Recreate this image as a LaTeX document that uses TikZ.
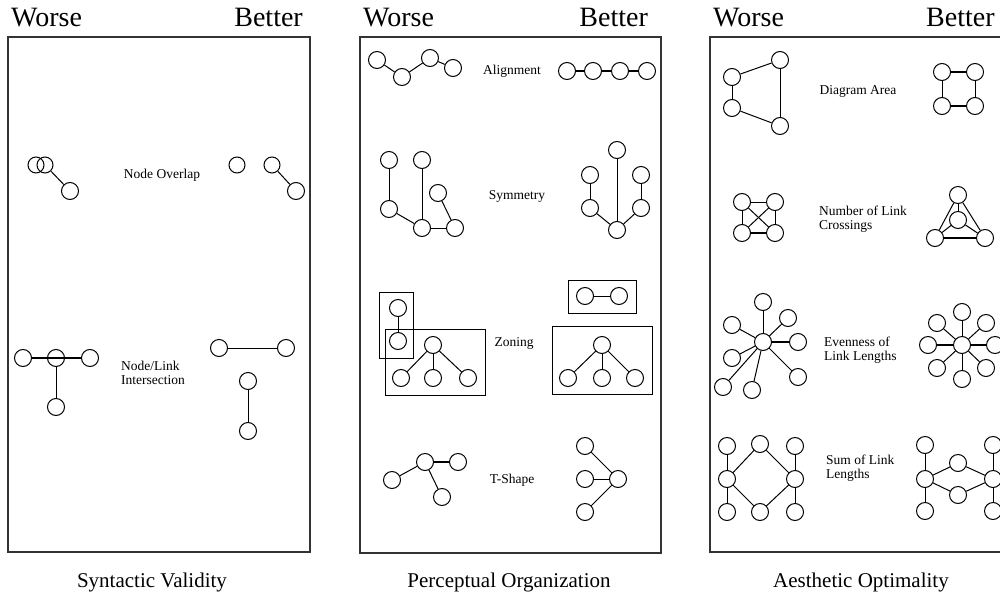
\documentclass[tikz,border=0pt]{standalone}
\usepackage{fontspec}
\setmainfont{Liberation Serif}
\begin{document}
\begin{tikzpicture}[x=1pt,y=-1pt,
  nd/.style={circle,draw,minimum size=17pt,inner sep=0pt,line width=1pt},
  sn/.style={circle,draw,minimum size=16pt,inner sep=0pt,line width=1pt},
  lk/.style={line width=1pt},
  tk/.style={line width=2pt},
  lbl/.style={font=\fontsize{13.5}{14.5}\selectfont,align=left,inner sep=0pt},
  hdr/.style={font=\fontsize{28}{30}\selectfont,inner sep=0pt},
  ttl/.style={font=\fontsize{21}{24}\selectfont,inner sep=0pt},
  panel/.style={draw=black!80,line width=1.2pt},
  zone/.style={draw,line width=1pt}]
\useasboundingbox (0,0) rectangle (1000,594);
% panels
\draw[panel] (8,37) rectangle (310,552);
\draw[panel] (360,37) rectangle (661,553);
\draw[panel] (710,37) rectangle (1012,552);
% headers
\node[hdr,anchor=base west] (h1w) at (11,27) {Worse};
\node[hdr,anchor=base east] (h1b) at (303,27) {Better};
\node[hdr,anchor=base west] (h2w) at (363,27) {Worse};
\node[hdr,anchor=base east] (h2b) at (648,27) {Better};
\node[hdr,anchor=base west] (h3w) at (713,27) {Worse};
\node[hdr,anchor=base west] (h3b) at (926,27) {Better};
% titles
\node[ttl,anchor=base] (t1) at (152,587) {Syntactic Validity};
\node[ttl,anchor=base] (t2) at (509,587) {Perceptual Organization};
\node[ttl,anchor=base] (t3) at (861,587) {Aesthetic Optimality};

% ===== Panel 1 =====
% Node overlap
\node[sn] (ow1) at (36,165) {};
\node[sn] (ow2) at (45,165) {};
\node[nd] (ow3) at (70,191) {};
\draw[lk] (ow2) -- (ow3);
\node[lbl] (lov) at (162,175) {Node Overlap};
\node[sn] (ob1) at (237,165) {};
\node[sn] (ob2) at (272,165) {};
\node[nd] (ob3) at (296,191) {};
\draw[lk] (ob2) -- (ob3);
% Node/link intersection
\node[nd] (iw1) at (23,358) {};
\node[nd] (iw2) at (56,358) {};
\node[nd] (iw3) at (90,358) {};
\node[nd] (iw4) at (56,407) {};
\draw[tk] (iw1) -- (iw3);
\draw[lk] (iw2) -- (iw4);
\node[lbl,anchor=west] (lni) at (121,373) {Node/Link\\Intersection};
\node[nd] (ib1) at (219,348) {};
\node[nd] (ib2) at (286,348) {};
\draw[lk] (ib1) -- (ib2);
\node[nd] (ib3) at (248,381) {};
\node[nd] (ib4) at (248,431) {};
\draw[lk] (ib3) -- (ib4);

% ===== Panel 2 =====
% Alignment
\node[nd] (aw1) at (377,60) {};
\node[nd] (aw2) at (402,77) {};
\node[nd] (aw3) at (430,58) {};
\node[nd] (aw4) at (453,68) {};
\draw[lk] (aw1) -- (aw2) -- (aw3) -- (aw4);
\node[lbl] (lal) at (512,71) {Alignment};
\node[nd] (ab1) at (567,71) {};
\node[nd] (ab2) at (593,71) {};
\node[nd] (ab3) at (620,71) {};
\node[nd] (ab4) at (647,71) {};
\draw[tk] (ab1) -- (ab2) -- (ab3) -- (ab4);
% Symmetry
\node[nd] (sw1) at (389,160) {};
\node[nd] (sw2) at (422,160) {};
\node[nd] (sw3) at (438,193) {};
\node[nd] (sw4) at (389,209) {};
\node[nd] (sw5) at (422,228) {};
\node[nd] (sw6) at (455,228) {};
\draw[lk] (sw1) -- (sw4);
\draw[lk] (sw2) -- (sw5);
\draw[lk] (sw4) -- (sw5);
\draw[lk] (sw5) -- (sw6);
\draw[lk] (sw3) -- (sw6);
\node[lbl] (lsy) at (517,196) {Symmetry};
\node[nd] (sb1) at (617,150) {};
\node[nd] (sb2) at (590,175) {};
\node[nd] (sb3) at (641,175) {};
\node[nd] (sb4) at (590,208) {};
\node[nd] (sb5) at (641,208) {};
\node[nd] (sb6) at (617,230) {};
\draw[lk] (sb1) -- (sb6);
\draw[lk] (sb2) -- (sb4);
\draw[lk] (sb3) -- (sb5);
\draw[lk] (sb4) -- (sb6);
\draw[lk] (sb5) -- (sb6);
% Zoning
\draw[zone] (379,292) rectangle (413,358);
\draw[zone] (385,329) rectangle (485,395);
\node[nd] (zw1) at (398,308) {};
\node[nd] (zw2) at (398,341) {};
\draw[lk] (zw1) -- (zw2);
\node[nd] (zw3) at (433,345) {};
\node[nd] (zw4) at (401,378) {};
\node[nd] (zw5) at (433,378) {};
\node[nd] (zw6) at (468,378) {};
\draw[lk] (zw3) -- (zw4);
\draw[lk] (zw3) -- (zw5);
\draw[lk] (zw3) -- (zw6);
\node[lbl] (lzo) at (514,343) {Zoning};
\draw[zone] (568,280) rectangle (636,313);
\node[nd] (zb1) at (585,296) {};
\node[nd] (zb2) at (619,296) {};
\draw[lk] (zb1) -- (zb2);
\draw[zone] (552,326) rectangle (652,394);
\node[nd] (zb3) at (602,345) {};
\node[nd] (zb4) at (568,378) {};
\node[nd] (zb5) at (602,378) {};
\node[nd] (zb6) at (635,378) {};
\draw[lk] (zb3) -- (zb4);
\draw[lk] (zb3) -- (zb5);
\draw[lk] (zb3) -- (zb6);
% T-Shape
\node[nd] (tw1) at (392,480) {};
\node[nd] (tw2) at (425,462) {};
\node[nd] (tw3) at (458,462) {};
\node[nd] (tw4) at (442,497) {};
\draw[lk] (tw1) -- (tw2);
\draw[tk] (tw2) -- (tw3);
\draw[lk] (tw2) -- (tw4);
\node[lbl] (lts) at (512,480) {T-Shape};
\node[nd] (tb1) at (585,446) {};
\node[nd] (tb2) at (585,479) {};
\node[nd] (tb3) at (585,512) {};
\node[nd] (tb4) at (618,479) {};
\draw[lk] (tb1) -- (tb4);
\draw[lk] (tb2) -- (tb4);
\draw[lk] (tb3) -- (tb4);

% ===== Panel 3 =====
% Diagram area
\node[nd] (dw1) at (732,77) {};
\node[nd] (dw2) at (732,108) {};
\node[nd] (dw3) at (780,60) {};
\node[nd] (dw4) at (780,126) {};
\draw[lk] (dw1) -- (dw3);
\draw[lk] (dw1) -- (dw2);
\draw[lk] (dw2) -- (dw4);
\draw[lk] (dw3) -- (dw4);
\node[lbl] (lda) at (858,91) {Diagram Area};
\node[nd] (db1) at (942,72) {};
\node[nd] (db2) at (975,72) {};
\node[nd] (db3) at (942,106) {};
\node[nd] (db4) at (975,106) {};
\draw[tk] (db1) -- (db2);
\draw[tk] (db3) -- (db4);
\draw[lk] (db1) -- (db3);
\draw[lk] (db2) -- (db4);
% Link crossings
\node[nd] (cw1) at (742,202) {};
\node[nd] (cw2) at (775,202) {};
\node[nd] (cw3) at (742,233) {};
\node[nd] (cw4) at (775,233) {};
\draw[lk] (cw1) -- (cw2);
\draw[tk] (cw3) -- (cw4);
\draw[lk] (cw1) -- (cw3);
\draw[lk] (cw2) -- (cw4);
\draw[lk] (cw1) -- (cw4);
\draw[lk] (cw2) -- (cw3);
\node[lbl,anchor=west] (lcr) at (819,219) {Number of Link\\Crossings};
\node[nd] (cb1) at (958,195) {};
\node[nd] (cb2) at (958,220) {};
\node[nd] (cb3) at (935,238) {};
\node[nd] (cb4) at (985,238) {};
\draw[lk] (cb1) -- (cb2);
\draw[lk] (cb1) -- (cb3);
\draw[lk] (cb1) -- (cb4);
\draw[lk] (cb2) -- (cb3);
\draw[lk] (cb2) -- (cb4);
\draw[tk] (cb3) -- (cb4);
% Evenness
\node[nd] (ew0) at (763,342) {};
\node[nd] (ew1) at (763,302) {};
\node[nd] (ew2) at (732,325) {};
\node[nd] (ew3) at (788,318) {};
\node[nd] (ew4) at (798,342) {};
\node[nd] (ew5) at (732,358) {};
\node[nd] (ew6) at (798,377) {};
\node[nd] (ew7) at (723,387) {};
\node[nd] (ew8) at (752,390) {};
\draw[lk] (ew0) -- (ew1);
\draw[lk] (ew0) -- (ew2);
\draw[lk] (ew0) -- (ew3);
\draw[tk] (ew0) -- (ew4);
\draw[lk] (ew0) -- (ew5);
\draw[lk] (ew0) -- (ew6);
\draw[lk] (ew0) -- (ew7);
\draw[lk] (ew0) -- (ew8);
\node[lbl,anchor=west] (lev) at (824,350) {Evenness of\\Link Lengths};
\node[nd] (eb0) at (962,345) {};
\node[nd] (eb1) at (962,312) {};
\node[nd] (eb2) at (962,379) {};
\node[nd] (eb3) at (928,345) {};
\node[nd] (eb4) at (995,345) {};
\node[nd] (eb5) at (937,323) {};
\node[nd] (eb6) at (986,323) {};
\node[nd] (eb7) at (937,368) {};
\node[nd] (eb8) at (986,368) {};
\draw[lk] (eb0) -- (eb1);
\draw[lk] (eb0) -- (eb2);
\draw[tk] (eb0) -- (eb3);
\draw[tk] (eb0) -- (eb4);
\draw[lk] (eb0) -- (eb5);
\draw[lk] (eb0) -- (eb6);
\draw[lk] (eb0) -- (eb7);
\draw[lk] (eb0) -- (eb8);
% Sum of link lengths
\node[nd] (uw1) at (727,446) {};
\node[nd] (uw2) at (760,444) {};
\node[nd] (uw3) at (795,446) {};
\node[nd] (uw4) at (727,479) {};
\node[nd] (uw5) at (795,479) {};
\node[nd] (uw6) at (727,512) {};
\node[nd] (uw7) at (760,512) {};
\node[nd] (uw8) at (795,512) {};
\draw[lk] (uw1) -- (uw4);
\draw[lk] (uw4) -- (uw6);
\draw[lk] (uw3) -- (uw5);
\draw[lk] (uw5) -- (uw8);
\draw[lk] (uw4) -- (uw2);
\draw[lk] (uw2) -- (uw5);
\draw[lk] (uw4) -- (uw7);
\draw[lk] (uw7) -- (uw5);
\node[lbl,anchor=west] (lsu) at (826,468) {Sum of Link\\Lengths};
\node[nd] (ub1) at (925,445) {};
\node[nd] (ub2) at (925,479) {};
\node[nd] (ub3) at (925,511) {};
\node[nd] (ub4) at (958,463) {};
\node[nd] (ub5) at (958,495) {};
\node[nd] (ub6) at (993,445) {};
\node[nd] (ub7) at (993,479) {};
\node[nd] (ub8) at (993,511) {};
\draw[lk] (ub1) -- (ub2);
\draw[lk] (ub2) -- (ub3);
\draw[lk] (ub6) -- (ub7);
\draw[lk] (ub7) -- (ub8);
\draw[lk] (ub2) -- (ub4);
\draw[lk] (ub4) -- (ub7);
\draw[lk] (ub2) -- (ub5);
\draw[lk] (ub5) -- (ub7);
\end{tikzpicture}
\end{document}
